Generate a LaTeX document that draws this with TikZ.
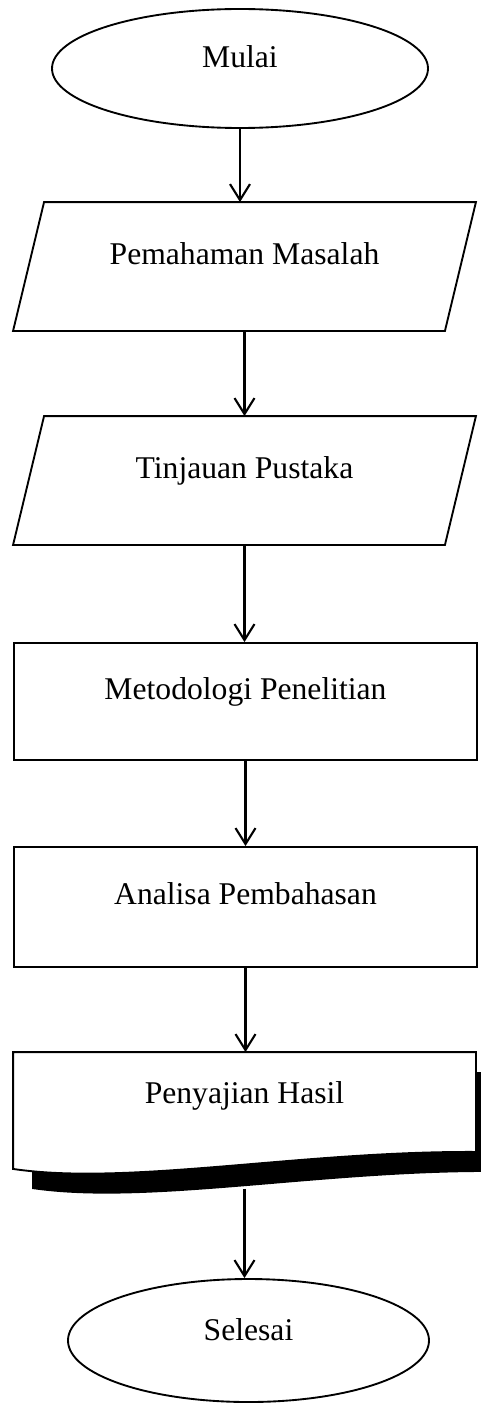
\documentclass[tikz,border=0pt]{standalone}
\usepackage{fontspec}
\setmainfont{Liberation Serif}
\usetikzlibrary{shapes.geometric,arrows.meta}

\begin{document}
\begin{tikzpicture}[
		>={Straight Barb[length=0.48cm,width=0.6cm]},
		garis/.style={line width=1.6pt},
		blok/.style={
			garis,
			inner sep=2pt,
			align=center,
			text height=0.66cm,
			text depth=0.81cm,
			font=\fontsize{27pt}{32pt}\selectfont
		},
		terminal/.style={
			blok,
			draw,
			ellipse,
			minimum width=11.28cm,
			minimum height=3.57cm
		},
		io/.style={
			blok,
			rectangle,
			minimum width=13.83cm,
			minimum height=3.81cm
		},
		proses/.style={
			blok,
			draw,
			rectangle,
			minimum width=13.89cm
		},
		alur/.style={->, line width=1.8pt}
		]
		
		\useasboundingbox (0,0) rectangle (14.4,-42.12);
		
		% Bentuk
		\node[terminal, text depth=0.72cm] (mulai) at (7.2,-2.055) {Mulai};
		\node[io] (masalah) at (7.335,-7.995) {Pemahaman Masalah};
		\node[io] (pustaka) at (7.335,-14.415) {Tinjauan Pustaka};
		\node[proses, minimum height=3.51cm] (metode) at (7.365,-21.045) {Metodologi Penelitian};
		\node[proses, minimum height=3.6cm] (analisa) at (7.365,-27.21) {Analisa Pembahasan};
		\node[blok, minimum width=13.83cm, minimum height=3.45cm, text depth=1.08cm] (hasil) at (7.335,-33.315) {};
		\node[terminal, minimum width=10.83cm, minimum height=3.69cm, text depth=0.66cm] (selesai) at (7.455,-40.215) {Selesai};
		
		% Jajaran genjang (input/output)
		\foreach \n in {masalah, pustaka}
		\draw[garis] ([xshift=0.93cm]\n.north west) -- (\n.north east)
		-- ([xshift=-0.93cm]\n.south east) -- (\n.south west) -- cycle;
		
		% Dokumen dengan bayangan
		\fill ([shift={(0.57,-0.6)}]hasil.north west) -- ([shift={(0.57,-0.6)}]hasil.north east)
		-- ([shift={(0.57,-0.09)}]hasil.south east)
		.. controls +(-5.25,0.03) and +(3.48,-0.51) .. ([shift={(0.57,-0.6)}]hasil.south west) -- cycle;
		\filldraw[garis, fill=white] (hasil.north west) -- (hasil.north east)
		-- ([yshift=0.51cm]hasil.south east)
		.. controls +(-5.25,0.03) and +(3.48,-0.51) .. (hasil.south west) -- cycle;
		\node[blok, text depth=1.08cm] at (hasil) {Penyajian Hasil};
		
		% Alur
		\draw[alur] (mulai.south) -- (mulai.south |- masalah.north);
		\draw[alur] (masalah.south) -- (masalah.south |- pustaka.north);
		\draw[alur] (pustaka.south) -- (pustaka.south |- metode.north);
		\draw[alur] (metode.south) -- (metode.south |- analisa.north);
		\draw[alur] (analisa.south) -- (analisa.south |- hasil.north);
		\draw[alur] ([yshift=-0.6cm]hasil.south) -- (hasil.south |- selesai.north);
		
	\end{tikzpicture}
\end{document}
